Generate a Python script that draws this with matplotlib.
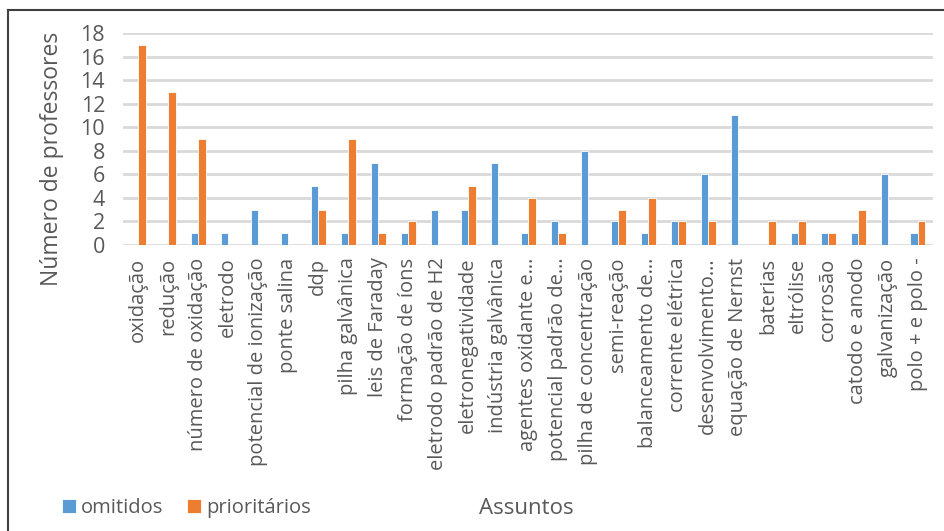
import matplotlib.pyplot as plt
import numpy as np

# Assuntos e contagens
assuntos = [
    "oxidação", "redução", "número de oxidação", "eletrodo",
    "potencial de ionização", "ponte salina", "ddp", "pilha galvânica",
    "leis de Faraday", "formação de íons", "eletrodo padrão de H2",
    "eletronegatividade", "indústria galvânica", "agentes oxidante e…",
    "potencial padrão de…", "pilha de concentração", "semi-reação",
    "balanceamento de…", "corrente elétrica", "desenvolvimento…",
    "equação de Nernst", "baterias", "eltrólise", "corrosão",
    "catodo e anodo", "galvanização", "polo + e polo -",
]
omitidos = [0, 0, 1, 1, 3, 1, 5, 1, 7, 1, 3, 3, 7, 1, 2, 8, 2, 1, 2, 6, 11,
            0, 1, 1, 1, 6, 1]
prioritarios = [17, 13, 9, 0, 0, 0, 3, 9, 1, 2, 0, 5, 0, 4, 1, 0, 3, 4, 2, 2,
                0, 2, 2, 1, 3, 0, 2]
yticks = list(range(0, 19, 2))

BLUE = "#5B9BD5"
ORANGE = "#ED7D31"
GRAY = "#595959"
FONT = "Open Sans"

fig = plt.figure(figsize=(9.45, 5.31), dpi=100)
ax = fig.add_axes([0.1302, 0.5386, 0.8571, 0.3993])

x = np.arange(len(assuntos))
w = 0.25
ax.bar(x - w / 2, omitidos, w, color=BLUE, edgecolor="white", linewidth=0.6,
       label="omitidos", zorder=3)
ax.bar(x + w / 2, prioritarios, w, color=ORANGE, edgecolor="white",
       linewidth=0.6, label="prioritários", zorder=3)

ax.set_xlim(-0.5, len(assuntos) - 0.5)
ax.set_ylim(0, 18)
ax.set_yticks(yticks)
ax.set_yticklabels([str(t) for t in yticks], fontsize=15.5, color=GRAY,
                   family=FONT)
ax.set_xticks(x)
ax.set_xticklabels(assuntos, rotation=90, fontsize=14.5, color=GRAY,
                   family=FONT, va="top", ha="center")
ax.tick_params(axis="both", length=0)
ax.tick_params(axis="y", pad=13)
ax.tick_params(axis="x", pad=9)
ax.grid(axis="y", color="#D9D9D9", linewidth=2, zorder=0)
for s in ax.spines.values():
    s.set_visible(False)

fig.text(0.055, 0.7, "Número de professores", rotation=90, ha="center",
         va="center", fontsize=16.5, color=GRAY, family=FONT)
fig.text(0.557, 0.043, "Assuntos", ha="center", va="center", fontsize=16,
         color=GRAY, family=FONT)

leg = fig.legend(loc="center left", bbox_to_anchor=(0.046, 0.043), ncol=2,
                 frameon=False, handlelength=0.7, handleheight=0.7,
                 handletextpad=0.25, columnspacing=1.2,
                 prop={"family": FONT, "size": 14.5})
for t in leg.get_texts():
    t.set_color(GRAY)

# moldura do gráfico (só esquerda e topo aparecem)
fig.add_artist(plt.Line2D([0.0085, 0.0085], [0, 0.981], color="#404040",
                          linewidth=1.5, transform=fig.transFigure))
fig.add_artist(plt.Line2D([0.0085, 1], [0.981, 0.981], color="#404040",
                          linewidth=1.5, transform=fig.transFigure))

fig.savefig("out.png", dpi=100, facecolor="white")
